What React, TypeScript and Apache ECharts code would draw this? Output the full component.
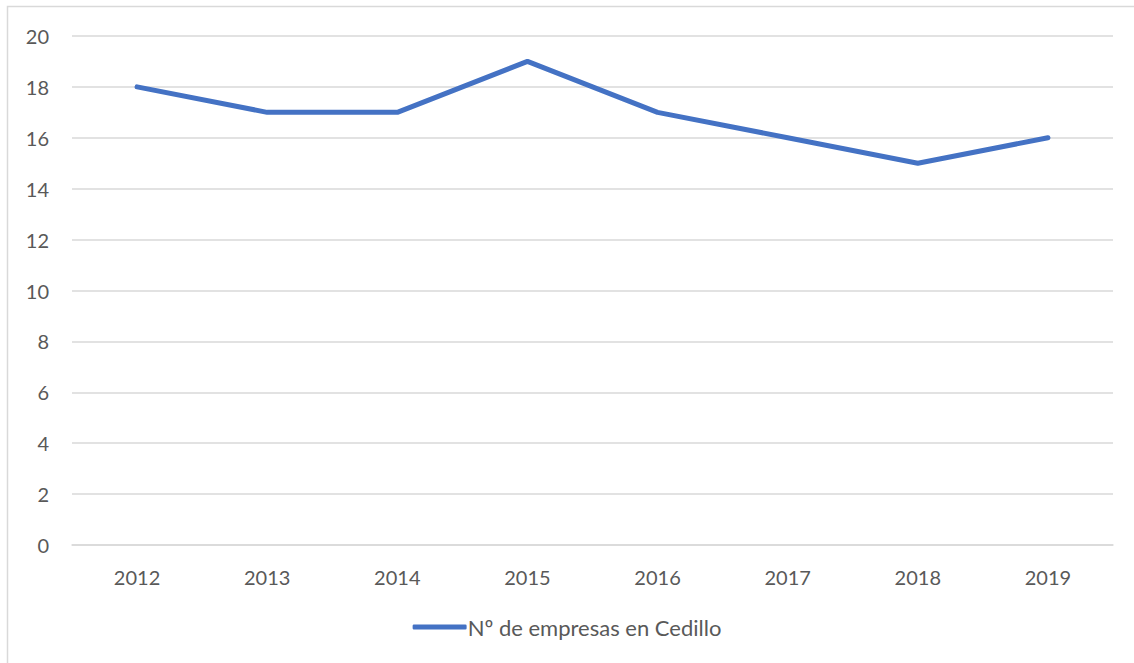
import React, { useEffect, useRef } from "react";
import * as echarts from "echarts";

const categories = ["2012", "2013", "2014", "2015", "2016", "2017", "2018", "2019"];
const values = [18, 17, 17, 19, 17, 16, 15, 16];
const seriesName = "Nº de empresas en Cedillo";

export default function App() {
  const ref = useRef<HTMLDivElement>(null);
  useEffect(() => {
    if (!ref.current) return;
    const chart = echarts.init(ref.current, null, { renderer: "svg" });
    const font = "Lato";
    chart.setOption({
      animation: false,
      backgroundColor: "#ffffff",
      graphic: [
        {
          type: "rect",
          shape: { x: 7.5, y: 6.5, width: 1140, height: 680 },
          style: { fill: "none", stroke: "#d9d9d9", lineWidth: 1.5 },
          silent: true,
        },
      ],
      grid: { left: 72, right: 21, top: 36, bottom: 118 },
      xAxis: {
        type: "category",
        data: categories,
        boundaryGap: true,
        axisLine: { show: true, lineStyle: { color: "#d9d9d9", width: 1.5 } },
        axisTick: { show: false },
        axisLabel: { color: "#595959", fontFamily: font, fontSize: 20, margin: 22 },
      },
      yAxis: {
        type: "value",
        min: 0,
        max: 20,
        interval: 2,
        axisLine: { show: false },
        axisTick: { show: false },
        splitLine: { lineStyle: { color: "#d9d9d9", width: 1.5 } },
        axisLabel: { color: "#595959", fontFamily: font, fontSize: 20, margin: 23 },
      },
      legend: {
        bottom: 20,
        left: "center",
        itemWidth: 54,
        itemHeight: 5,
        itemGap: 10,
        textStyle: { color: "#595959", fontFamily: font, fontSize: 22, padding: [0, 0, 0, -4] },
        data: [{ name: seriesName, icon: "roundRect", itemStyle: { color: "#4472C4" } }],
      },
      series: [
        {
          name: seriesName,
          type: "line",
          data: values,
          symbol: "none",
          showSymbol: false,
          lineStyle: { color: "#4472C4", width: 5, cap: "round", join: "round" },
          itemStyle: { color: "#4472C4" },
        },
      ],
    });
    return () => chart.dispose();
  }, []);
  return (
    <div
      ref={ref}
      style={{ position: "fixed", left: 0, top: 0, width: 1134, height: 663 }}
    />
  );
}
